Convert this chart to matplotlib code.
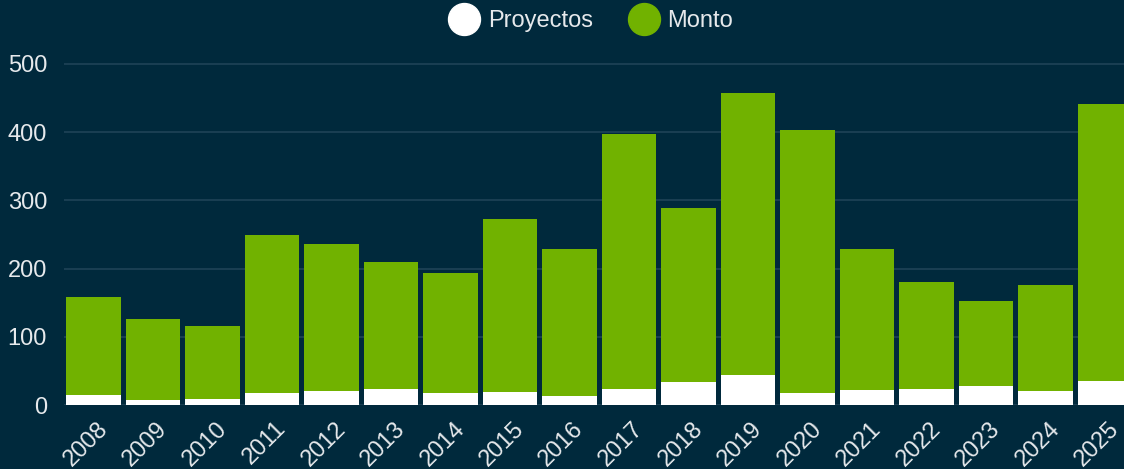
import numpy as np
import matplotlib.pyplot as plt
import matplotlib.transforms as mtransforms
from matplotlib.lines import Line2D

anios = ['2008', '2009', '2010', '2011', '2012', '2013', '2014', '2015', '2016',
         '2017', '2018', '2019', '2020', '2021', '2022', '2023', '2024', '2025']
monto = [158, 126, 116, 249, 236, 210, 194, 273, 229,
         397, 289, 457, 403, 229, 180, 152, 176, 441]
proyectos = [14, 7, 9, 18, 20, 23, 17, 19, 13,
             23, 33, 44, 18, 22, 23, 28, 21, 35]

fondo = '#00293c'
verde = '#71b200'
texto = '#e6e9ec'

plt.rcParams['font.family'] = ['Liberation Sans', 'DejaVu Sans']

fig = plt.figure(figsize=(11.24, 4.69), dpi=100)
fig.patch.set_facecolor(fondo)
ax = fig.add_axes([63.75 / 1124, (469 - 405) / 469, (1124 - 63.75) / 1124, 355 / 469])
ax.set_facecolor(fondo)

x = np.arange(len(anios))
ax.bar(x, monto, width=0.92, color=verde, zorder=2)
ax.bar(x, proyectos, width=0.92, color='white', zorder=3)

ax.set_xlim(-0.5, -0.5 + (1124 - 63.75) / 59.5)
ax.set_ylim(0, 355 / 0.682)
ax.set_yticks([0, 100, 200, 300, 400, 500])
ax.yaxis.grid(True, color='#1f4357', linewidth=1.2, zorder=0)
ax.set_axisbelow(True)
for s in ax.spines.values():
    s.set_visible(False)

ax.set_xticks(x)
ax.set_xticklabels(anios, rotation=45, ha='right', rotation_mode='anchor')
ax.tick_params(axis='both', length=0, colors=texto, labelsize=17)
ax.tick_params(axis='y', pad=12)
ax.tick_params(axis='x', pad=9)
desplazar = mtransforms.ScaledTranslation(3 / 100, 0, fig.dpi_scale_trans)
for t in ax.get_xticklabels():
    t.set_transform(t.get_transform() + desplazar)

handles = [
    Line2D([], [], marker='o', linestyle='none', markersize=23,
           markerfacecolor='white', markeredgecolor='white', label='Proyectos'),
    Line2D([], [], marker='o', linestyle='none', markersize=23,
           markerfacecolor=verde, markeredgecolor=verde, label='Monto'),
]
leg = fig.legend(handles=handles, loc='center', bbox_to_anchor=(0.522, 1 - 21 / 469),
                 ncol=2, frameon=False, fontsize=17, handletextpad=0.0,
                 columnspacing=1.15, labelcolor=texto)

fig.savefig('out.png', dpi=100, facecolor=fondo)
